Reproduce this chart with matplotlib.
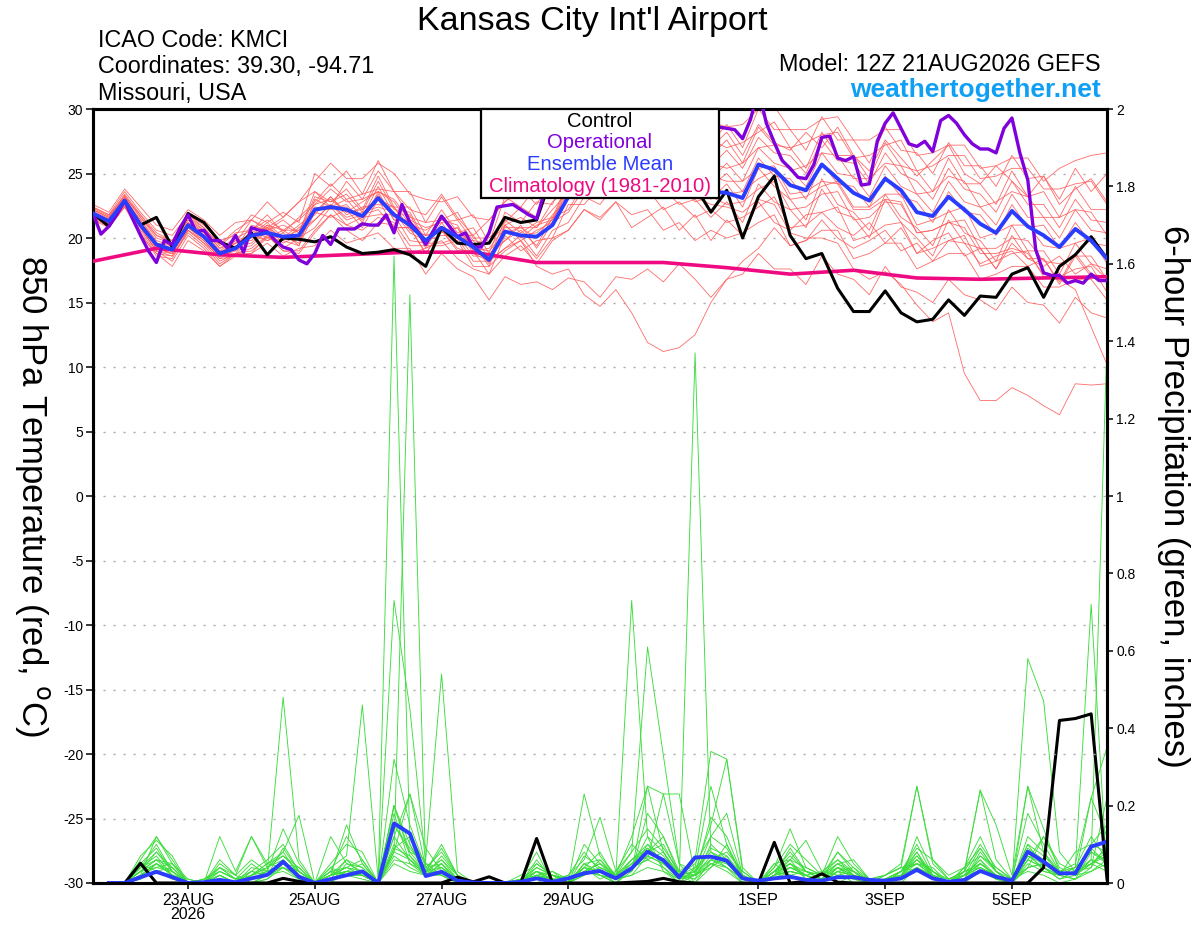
import numpy as np
import matplotlib
matplotlib.use('Agg')
import matplotlib.pyplot as plt
from matplotlib.patches import Rectangle

plt.rcParams['font.family'] = ['Liberation Sans', 'DejaVu Sans']
plt.rcParams['axes.unicode_minus'] = False

# ---------------- time axes ----------------
t0 = np.datetime64('2026-08-21T12:00')
t6 = t0 + np.arange(65) * np.timedelta64(6, 'h')      # 6-hourly (ensemble)
t3 = t0 + np.arange(129) * np.timedelta64(3, 'h')     # 3-hourly (operational)
t24 = t0 + np.arange(17) * np.timedelta64(24, 'h')    # daily (climatology)
tp = t6[1:]                                           # precip accumulations

tick_dates = np.array(['2026-08-23T00:00', '2026-08-25T00:00', '2026-08-27T00:00',
                       '2026-08-29T00:00', '2026-09-01T00:00', '2026-09-03T00:00',
                       '2026-09-05T00:00'], dtype='datetime64[m]')
tick_labels = ['23AUG\n2026', '25AUG', '27AUG', '29AUG', '1SEP', '3SEP', '5SEP']

# ---------------- 850 hPa temperature ----------------
control_t = [21.9, 20.9, 22.9, 21.0, 21.6, 19.3, 21.9, 21.2, 19.7, 19.2,
             20.4, 18.7, 20.0, 19.9, 19.7, 20.1, 19.3, 18.8, 18.9, 19.1,
             18.7, 17.8, 20.8, 19.6, 19.5, 19.6, 21.6, 21.2, 21.4, 25.0,
             25.5, 26.0, 25.0, 24.5, 25.5, 24.8, 24.2, 24.6, 24.0, 22.0,
             23.7, 20.0, 23.2, 24.8, 20.2, 18.4, 18.8, 16.1, 14.3, 14.3,
             15.9, 14.2, 13.5, 13.7, 15.2, 14.0, 15.5, 15.4, 17.2, 17.7,
             15.4, 17.8, 18.7, 20.1, 18.4]

mean_t = [21.9, 21.3, 22.9, 21.0, 19.5, 19.1, 21.0, 20.1, 18.8, 19.2,
          20.2, 20.4, 20.1, 20.2, 22.2, 22.4, 22.2, 21.7, 23.1, 21.8,
          21.0, 19.8, 20.8, 20.1, 19.3, 18.3, 20.5, 20.2, 20.1, 21.0,
          23.2, 24.0, 24.5, 24.8, 25.0, 24.6, 24.2, 24.0, 23.8, 23.6,
          23.5, 23.1, 25.7, 25.3, 24.1, 23.7, 25.7, 24.6, 23.5, 22.9,
          24.6, 23.7, 22.0, 21.7, 23.2, 22.2, 21.1, 20.4, 22.1, 20.9,
          20.2, 19.3, 20.7, 19.8, 18.4]

oper_t = [21.9, 20.3, 20.9, 21.8, 22.9, 21.5, 20.2, 19.0, 18.1, 19.8,
          19.5, 20.8, 21.8, 20.5, 20.6, 19.8, 19.8, 19.2, 20.2, 18.9,
          20.8, 20.6, 20.5, 19.8, 19.3, 19.1, 18.3, 18.0, 18.8, 20.2,
          19.5, 20.7, 20.7, 20.7, 21.1, 21.0, 21.0, 21.8, 20.4, 22.6,
          21.2, 20.5, 19.5, 20.6, 21.7, 20.9, 20.1, 20.4, 19.3, 19.3,
          20.4, 22.4, 22.5, 22.6, 22.2, 21.8, 21.5, 23.6, 25.5, 26.5,
          27.5, 28.5, 29.5, 30.5, 29.5, 28.5, 29.0, 30.2, 29.0, 28.0,
          27.5, 28.5, 30.3, 29.0, 28.0, 28.5, 29.0, 30.2, 29.0, 28.6,
          28.5, 28.4, 27.7, 29.2, 31.5, 28.9, 27.4, 26.0, 25.4, 24.7,
          24.6, 25.7, 27.8, 27.9, 26.2, 26.0, 26.3, 24.1, 24.2, 27.5,
          28.9, 29.7, 28.5, 27.3, 27.1, 27.5, 26.7, 29.1, 29.5, 28.9,
          28.0, 27.3, 26.9, 26.9, 26.6, 28.5, 29.3, 26.6, 24.5, 19.1,
          17.3, 17.1, 17.1, 16.5, 16.7, 16.5, 17.2, 16.7, 16.7]

climo_t = [18.2, 19.2, 18.7, 18.5, 18.7, 18.9, 18.9, 18.1, 18.1, 18.1,
           17.7, 17.2, 17.5, 16.9, 16.8, 16.9, 17.0]

m01 = [22.2, 21.6, 23.4, 21.8, 20.4, 19.8, 21.6, 20.8, 19.5, 20.6, 21.4, 20.8, 21.6, 22.8, 23.6, 22.4,
       24.4, 23.0, 25.2, 23.6, 22.2, 21.8, 23.4, 21.6, 20.2, 21.4, 22.8, 23.8, 22.6, 24.6, 25.8, 26.8,
       27.6, 26.2, 27.8, 28.4, 26.6, 27.2, 28.8, 27.0, 28.2, 26.4, 28.8, 27.4, 26.8, 28.2, 27.0, 28.6,
       26.4, 25.2, 27.6, 26.2, 24.8, 26.0, 27.2, 25.0, 24.2, 25.6, 24.4, 23.2, 24.8, 22.6, 23.8, 24.6, 22.8]
m02 = [21.6, 21.0, 22.6, 20.4, 18.6, 18.4, 20.6, 19.6, 18.2, 18.8, 19.2, 20.2, 19.0, 18.8, 20.4, 21.8,
       20.6, 19.8, 21.2, 21.0, 18.8, 19.2, 19.8, 18.4, 17.6, 17.2, 18.6, 19.4, 18.0, 19.8, 20.6, 22.2,
       21.6, 22.8, 20.8, 21.6, 22.4, 20.6, 21.8, 19.8, 21.4, 20.2, 22.8, 21.2, 20.6, 21.8, 22.0, 20.8,
       20.2, 21.2, 19.6, 20.8, 18.8, 19.8, 20.4, 18.6, 19.2, 17.6, 19.6, 18.4, 17.8, 18.6, 17.2, 18.0, 16.8]
m03 = [21.8, 21.2, 22.8, 21.2, 19.6, 19.4, 21.2, 20.4, 19.0, 19.8, 20.2, 21.2, 20.0, 20.6, 21.4, 22.6,
       21.4, 21.8, 22.2, 20.8, 20.8, 18.8, 20.6, 19.2, 18.8, 18.2, 19.2, 19.8, 17.8, 17.2, 17.6, 15.6,
       14.7, 16.0, 14.2, 11.9, 11.2, 11.5, 12.5, 15.0, 16.8, 18.2, 19.2, 20.8, 19.4, 19.8, 21.4, 20.0,
       19.2, 19.8, 20.6, 19.0, 19.6, 18.2, 19.8, 19.6, 18.0, 18.6, 19.0, 17.8, 18.4, 16.4, 18.6, 17.0, 16.6]
m04 = [21.4, 20.8, 22.4, 20.2, 18.8, 17.8, 19.8, 19.0, 17.8, 18.6, 18.8, 19.6, 18.6, 19.2, 19.4, 20.6,
       19.6, 20.0, 20.4, 19.2, 19.2, 17.2, 18.8, 17.6, 17.0, 15.2, 17.0, 16.4, 16.6, 16.0, 16.9, 16.6,
       15.4, 17.0, 16.8, 17.6, 16.6, 18.0, 16.8, 15.4, 16.8, 17.2, 18.8, 17.6, 17.6, 16.4, 18.6, 17.2,
       16.8, 15.6, 17.8, 16.2, 15.8, 15.0, 16.8, 15.6, 15.2, 14.4, 16.2, 15.0, 14.8, 13.4, 15.4, 14.2, 13.8]
m05 = [22.0, 21.4, 23.0, 21.2, 19.4, 19.2, 21.0, 20.2, 18.8, 19.6, 20.2, 20.8, 20.0, 21.0, 22.0, 23.2,
       22.0, 22.2, 23.0, 22.4, 20.8, 20.2, 20.6, 20.8, 19.2, 19.0, 20.4, 20.8, 20.0, 21.8, 23.0, 24.6,
       24.2, 25.4, 24.8, 25.0, 23.8, 24.4, 23.2, 22.6, 22.4, 22.0, 23.0, 22.6, 20.4, 20.0, 20.0, 19.6,
       17.6, 16.8, 17.4, 16.4, 14.8, 13.5, 14.2, 9.5, 7.4, 7.4, 8.4, 7.8, 7.0, 6.3, 8.7, 8.6, 8.7]
m06 = [22.4, 21.8, 23.2, 21.6, 20.0, 19.6, 21.4, 20.6, 19.2, 20.0, 20.6, 21.4, 20.6, 21.4, 22.6, 23.8,
       22.8, 23.0, 23.6, 23.0, 21.4, 20.8, 21.2, 21.4, 19.8, 19.6, 21.0, 21.6, 20.8, 22.8, 23.8, 25.4,
       25.0, 26.2, 25.6, 25.8, 24.6, 25.2, 24.8, 24.8, 24.4, 24.4, 25.4, 25.6, 23.4, 23.6, 24.4, 24.2,
       22.2, 22.2, 23.0, 22.8, 20.4, 20.6, 21.2, 20.8, 18.8, 18.8, 19.2, 18.8, 17.2, 16.8, 16.0, 13.1, 10.2]
m07 = [22.6, 22.0, 23.8, 22.4, 21.0, 20.6, 22.2, 21.4, 20.2, 21.2, 21.4, 22.8, 21.6, 22.8, 24.4, 25.8,
       24.6, 24.6, 25.8, 25.0, 23.4, 23.0, 22.8, 23.2, 21.6, 21.4, 22.8, 24.0, 23.8, 26.0, 26.8, 28.4,
       28.2, 29.4, 28.2, 28.6, 27.4, 27.8, 27.6, 29.0, 28.6, 28.8, 30.0, 30.2, 28.4, 28.4, 29.2, 29.4,
       27.6, 27.6, 28.4, 28.4, 26.4, 26.6, 27.2, 27.2, 25.4, 25.6, 26.2, 26.2, 24.4, 25.4, 26.0, 26.4, 26.6]
m08 = [21.7, 21.1, 22.7, 21.0, 19.2, 18.8, 20.8, 19.8, 18.4, 18.6, 20.4, 19.8, 20.2, 19.6, 22.4, 22.2,
       22.6, 21.2, 23.6, 21.4, 21.4, 19.2, 21.2, 19.6, 19.6, 17.8, 21.0, 19.8, 20.6, 21.2, 24.0, 24.2,
       25.6, 25.2, 26.2, 24.8, 25.2, 24.0, 24.4, 23.0, 24.2, 22.4, 25.4, 24.0, 23.0, 21.4, 24.6, 22.6,
       22.0, 20.6, 23.4, 21.6, 20.8, 19.4, 22.2, 20.4, 19.8, 18.2, 21.0, 19.0, 19.0, 17.2, 19.6, 18.0, 17.6]
m09 = [22.1, 21.5, 23.1, 21.4, 19.8, 19.4, 21.4, 20.4, 19.0, 19.2, 21.0, 20.6, 21.0, 20.4, 23.2, 22.8,
       23.4, 22.0, 24.4, 22.2, 22.0, 19.8, 21.6, 20.2, 20.2, 18.4, 21.4, 20.4, 21.2, 21.6, 24.4, 24.6,
       26.0, 25.6, 26.8, 25.6, 26.0, 24.8, 26.0, 25.6, 26.8, 25.4, 27.8, 26.6, 26.4, 25.0, 27.6, 26.0,
       25.8, 24.2, 26.6, 25.0, 24.4, 23.0, 25.4, 23.8, 23.4, 22.0, 24.4, 22.6, 22.6, 20.8, 23.0, 21.4, 21.2]
m10 = [21.5, 20.9, 22.5, 20.6, 18.8, 18.6, 20.4, 19.4, 18.0, 18.8, 19.0, 20.0, 19.8, 19.4, 22.0, 21.6,
       22.2, 20.8, 23.0, 20.8, 20.8, 18.8, 20.6, 19.0, 19.0, 17.2, 20.2, 19.0, 19.8, 20.0, 22.6, 22.6,
       24.0, 23.6, 24.8, 23.4, 23.8, 22.6, 23.0, 21.6, 22.8, 21.2, 24.2, 22.8, 22.2, 20.8, 23.8, 22.0,
       21.6, 20.0, 23.0, 21.2, 20.0, 18.6, 21.4, 19.6, 19.2, 17.6, 20.2, 18.4, 18.4, 16.6, 18.8, 17.2, 17.0]
m11 = [22.3, 21.7, 23.3, 21.6, 20.2, 19.8, 21.8, 20.8, 19.4, 20.4, 20.6, 21.8, 20.4, 21.6, 22.8, 24.2,
       23.0, 23.4, 23.8, 23.6, 21.6, 21.2, 21.4, 22.0, 20.0, 20.0, 21.2, 22.4, 21.6, 24.4, 24.8, 26.8,
       26.2, 27.8, 26.8, 27.6, 25.8, 27.0, 26.4, 27.6, 27.0, 27.4, 28.2, 29.0, 27.0, 27.4, 28.0, 28.2,
       26.2, 26.4, 27.2, 27.6, 25.2, 25.6, 26.4, 26.4, 24.6, 24.8, 25.4, 25.4, 23.8, 23.8, 24.2, 24.4, 22.6]
m12 = [21.9, 21.3, 22.9, 20.8, 19.0, 18.8, 20.8, 20.0, 18.6, 19.4, 19.6, 20.8, 19.6, 20.2, 21.4, 22.6,
       21.6, 22.0, 22.4, 22.0, 20.4, 19.8, 20.2, 20.2, 18.6, 18.6, 19.8, 20.6, 19.4, 21.6, 22.2, 24.2,
       23.8, 25.2, 24.2, 25.0, 23.6, 24.2, 22.8, 23.2, 22.6, 22.8, 23.8, 24.4, 22.2, 22.4, 23.4, 23.6,
       21.4, 21.6, 22.8, 22.6, 20.4, 20.6, 21.2, 21.4, 19.2, 19.2, 20.0, 19.8, 18.2, 18.0, 18.6, 18.6, 16.8]
m13 = [21.8, 21.2, 22.6, 21.2, 19.4, 19.0, 20.6, 19.6, 18.6, 19.0, 20.2, 19.8, 20.4, 19.4, 23.0, 22.4,
       23.0, 21.6, 24.0, 21.8, 21.8, 19.6, 21.6, 20.0, 19.8, 18.0, 21.0, 20.0, 21.0, 21.4, 24.2, 24.2,
       25.4, 25.0, 26.0, 24.6, 25.0, 23.8, 25.0, 24.6, 25.8, 24.4, 27.0, 25.8, 25.4, 24.0, 26.6, 25.0,
       24.8, 23.2, 25.6, 24.0, 23.4, 22.0, 24.4, 22.8, 22.4, 21.0, 23.4, 21.6, 21.6, 20.0, 22.2, 20.6, 20.4]
m14 = [22.0, 21.4, 22.9, 21.4, 19.6, 19.0, 21.2, 20.2, 18.8, 19.6, 20.0, 21.0, 19.8, 20.8, 21.8, 23.2,
       21.8, 22.4, 22.6, 22.4, 20.6, 20.2, 20.4, 20.8, 18.8, 18.8, 19.8, 21.0, 19.2, 21.2, 22.0, 23.8,
       23.2, 24.6, 24.2, 24.4, 23.2, 23.6, 23.2, 23.8, 23.4, 23.6, 24.6, 25.2, 23.0, 23.2, 24.0, 24.4,
       22.4, 22.4, 23.4, 23.4, 21.0, 21.4, 22.0, 22.4, 20.0, 20.4, 21.0, 21.0, 19.4, 19.2, 19.6, 20.0, 18.0]
m15 = [22.4, 21.8, 23.6, 22.0, 20.6, 20.2, 21.8, 21.0, 19.8, 20.2, 21.8, 21.2, 22.0, 21.2, 25.0, 24.0,
       25.2, 23.4, 26.0, 23.6, 23.6, 21.2, 23.2, 21.4, 21.8, 19.6, 23.2, 22.4, 24.0, 24.4, 27.2, 26.8,
       28.4, 27.8, 28.6, 27.2, 27.6, 26.4, 27.8, 27.4, 28.8, 27.0, 30.0, 28.4, 28.4, 26.8, 29.4, 27.6,
       27.6, 25.8, 28.6, 26.8, 26.6, 25.0, 27.4, 25.6, 25.6, 24.0, 26.4, 24.6, 24.8, 23.0, 25.4, 23.6, 25.0]
m16 = [21.6, 21.0, 22.4, 20.8, 19.0, 18.2, 20.2, 19.2, 17.8, 18.8, 18.8, 20.2, 19.0, 19.0, 20.6, 21.8,
       21.0, 20.6, 21.6, 21.2, 19.4, 19.4, 19.4, 19.8, 17.8, 17.8, 19.0, 19.8, 18.4, 20.0, 20.6, 22.2,
       21.4, 22.8, 21.8, 22.2, 20.6, 21.2, 19.8, 20.6, 20.0, 20.4, 21.2, 21.8, 19.4, 19.8, 20.6, 20.6,
       18.4, 18.8, 19.6, 19.6, 17.6, 18.2, 18.8, 18.8, 16.8, 17.2, 17.8, 17.8, 16.2, 16.2, 16.8, 16.8, 15.2]
m17 = [22.2, 21.6, 23.2, 21.8, 20.2, 19.6, 21.6, 20.6, 19.2, 19.6, 21.4, 20.6, 21.4, 20.4, 23.6, 22.8,
       23.8, 22.2, 24.8, 22.4, 22.4, 20.2, 22.2, 20.4, 20.8, 18.8, 22.0, 21.2, 22.8, 22.6, 25.6, 25.0,
       26.8, 26.2, 27.4, 26.0, 26.6, 25.2, 26.6, 26.4, 27.6, 25.8, 28.6, 27.2, 27.0, 25.4, 28.2, 26.4,
       26.4, 24.6, 27.4, 25.6, 25.2, 23.6, 26.2, 24.2, 24.2, 22.6, 25.2, 23.2, 23.6, 21.6, 24.0, 22.2, 22.2]
m18 = [21.7, 21.1, 22.7, 20.8, 19.0, 18.6, 20.6, 19.8, 18.4, 19.2, 19.4, 20.6, 19.2, 20.0, 20.8, 22.4,
       21.0, 21.6, 21.8, 21.8, 19.8, 19.6, 19.6, 20.0, 18.2, 18.2, 19.2, 20.2, 18.6, 20.6, 21.2, 23.2,
       22.6, 24.2, 23.0, 23.8, 22.2, 22.8, 21.6, 22.2, 21.2, 21.6, 22.4, 23.2, 20.8, 21.0, 22.0, 22.4,
       19.8, 20.2, 21.0, 21.2, 18.8, 19.2, 19.8, 20.2, 17.8, 18.2, 18.8, 19.0, 17.0, 17.0, 17.6, 17.8, 15.8]
m19 = [22.0, 21.4, 23.0, 21.2, 19.6, 19.2, 21.0, 20.2, 18.8, 19.8, 19.8, 21.0, 20.6, 20.6, 22.6, 23.0,
       22.0, 22.8, 23.6, 22.8, 21.0, 20.6, 21.4, 21.0, 19.0, 19.2, 20.8, 20.8, 20.8, 22.2, 23.6, 25.4,
       24.6, 26.2, 25.6, 26.2, 24.6, 25.6, 25.4, 25.8, 25.4, 25.8, 27.0, 27.2, 25.2, 25.6, 26.6, 26.4,
       24.6, 24.6, 25.8, 25.6, 23.4, 23.6, 24.8, 24.4, 22.4, 22.8, 23.6, 23.2, 21.6, 21.6, 22.2, 22.0, 20.2]
m20 = [21.8, 21.2, 22.8, 21.0, 19.2, 18.8, 20.8, 20.0, 18.6, 18.8, 20.6, 20.0, 20.6, 19.8, 22.2, 22.4,
       22.4, 21.4, 23.4, 21.4, 21.2, 19.6, 20.8, 19.6, 19.4, 18.2, 20.6, 20.2, 20.4, 21.4, 23.6, 23.8,
       25.0, 24.4, 25.6, 24.2, 24.6, 23.2, 24.4, 24.0, 25.0, 23.6, 26.2, 24.8, 24.6, 23.0, 25.8, 24.2,
       24.0, 22.4, 24.8, 23.2, 22.8, 21.2, 23.6, 22.0, 21.8, 20.2, 22.6, 20.8, 21.0, 19.2, 21.2, 19.6, 19.4]
temp_members = [m01, m02, m03, m04, m05, m06, m07, m08, m09, m10,
                m11, m12, m13, m14, m15, m16, m17, m18, m19, m20]

# ---------------- 6-hour precipitation (inches), 21AUG 18Z onward ----------------
control_p = [0, 0, 0.051, 0, 0, 0, 0, 0, 0, 0,
             0, 0.012, 0.004, 0, 0, 0, 0, 0, 0, 0,
             0, 0, 0.015, 0.003, 0.016, 0, 0, 0.115, 0, 0,
             0, 0, 0, 0.002, 0.004, 0.012, 0.003, 0, 0, 0,
             0, 0, 0.105, 0, 0.004, 0.024, 0.002, 0, 0, 0,
             0, 0, 0, 0, 0, 0, 0, 0, 0, 0.04,
             0.42, 0.425, 0.437, 0.01]
mean_p = [0, 0, 0.015, 0.029, 0.015, 0, 0.002, 0.008, 0.002, 0.012,
          0.021, 0.055, 0.016, 0, 0.010, 0.020, 0.030, 0, 0.154, 0.128,
          0.018, 0.029, 0.006, 0.001, 0, 0, 0.003, 0.012, 0.003, 0.012,
          0.025, 0.031, 0.012, 0.038, 0.081, 0.059, 0.015, 0.066, 0.068, 0.058,
          0.012, 0.006, 0.012, 0.016, 0.008, 0.006, 0.015, 0.015, 0.008, 0.006,
          0.012, 0.034, 0.012, 0.003, 0.008, 0.031, 0.016, 0.006, 0.081, 0.055,
          0.025, 0.025, 0.094, 0.107]

g01 = [0, 0, 0.03, 0.06, 0.02, 0, 0, 0.01, 0, 0.02, 0.04, 0.08, 0.02, 0, 0, 0.03,
       0.05, 0, 1.62, 0.10, 0.02, 0.03, 0, 0, 0, 0, 0, 0.02, 0, 0, 0.03, 0.05,
       0.01, 0.06, 0.10, 0.04, 0, 0.02, 0.05, 0.03, 0, 0, 0.01, 0.03, 0.02, 0, 0.04, 0.01,
       0, 0, 0.02, 0.08, 0.01, 0, 0, 0.05, 0.02, 0, 0.06, 0.04, 0.01, 0.02, 0.05, 0.03]
g02 = [0, 0, 0.07, 0.11, 0.07, 0, 0, 0.02, 0, 0, 0.01, 0.05, 0.03, 0, 0.02, 0.06,
       0.02, 0, 0.08, 1.52, 0.03, 0.06, 0.01, 0, 0, 0, 0, 0, 0, 0.02, 0.08, 0.03,
       0, 0.04, 0.12, 0.08, 0.02, 0, 0.04, 0.10, 0.01, 0, 0.02, 0.05, 0.01, 0, 0, 0.02,
       0.01, 0, 0, 0.04, 0.02, 0, 0.02, 0.09, 0.03, 0, 0.12, 0.08, 0.02, 0.01, 0.03, 0.06]
g03 = [0, 0, 0.02, 0.05, 0.03, 0, 0.01, 0.04, 0.02, 0, 0.02, 0.03, 0.01, 0, 0.03, 0.02,
       0.01, 0, 0.73, 0.45, 0.05, 0.02, 0, 0, 0, 0, 0.01, 0.03, 0.01, 0, 0.02, 0.04,
       0.02, 0.12, 0.25, 0.08, 0.01, 0.03, 0.08, 0.06, 0, 0, 0.03, 0.06, 0.01, 0.02, 0.05, 0.02,
       0, 0, 0.01, 0.12, 0.03, 0, 0.01, 0.07, 0.04, 0.01, 0.03, 0.02, 0, 0.01, 0.08, 0.05]
g04 = [0, 0, 0.04, 0.08, 0.04, 0, 0, 0, 0, 0.03, 0.06, 0.10, 0.03, 0, 0.04, 0.07,
       0.46, 0.01, 0.20, 0.08, 0.06, 0.54, 0.03, 0, 0, 0, 0, 0.04, 0.02, 0, 0.05, 0.02,
       0, 0.03, 0.18, 0.12, 0.03, 0.02, 0.12, 0.09, 0.02, 0, 0.05, 0.02, 0.03, 0.01, 0.03, 0,
       0, 0.01, 0.03, 0.05, 0.02, 0, 0, 0.03, 0.02, 0, 0.25, 0.14, 0.03, 0.02, 0.06, 0.04]
g05 = [0, 0, 0.03, 0.04, 0.05, 0.01, 0, 0.03, 0.01, 0.01, 0.03, 0.48, 0.06, 0, 0.01, 0.03,
       0.03, 0, 0.12, 0.23, 0.04, 0.02, 0, 0, 0, 0, 0, 0, 0.02, 0.01, 0.04, 0.01,
       0.03, 0.10, 0.06, 0.23, 0.05, 0, 0.06, 0.08, 0.03, 0, 0.02, 0.04, 0.02, 0.03, 0.02, 0.01,
       0, 0.02, 0.04, 0.03, 0.01, 0, 0.03, 0.04, 0.02, 0.01, 0.04, 0.12, 0.05, 0.03, 0.10, 0.08]
g06 = [0, 0, 0.01, 0.03, 0.02, 0, 0, 0.02, 0, 0, 0.01, 0.04, 0.02, 0, 0.01, 0.02,
       0.02, 0, 0.10, 0.06, 0.02, 0.04, 0.01, 0, 0, 0, 0, 0.01, 0.03, 0.01, 0.02, 0.06,
       0.01, 0.02, 0.04, 0.03, 0.01, 1.37, 0.08, 0.05, 0.01, 0, 0.03, 0.02, 0.01, 0, 0.02, 0.03,
       0, 0, 0.03, 0.10, 0.02, 0.01, 0.02, 0.06, 0.01, 0, 0.08, 0.03, 0.02, 0.01, 0.04, 0.22]
g07 = [0, 0, 0.02, 0.12, 0.05, 0, 0.01, 0.01, 0, 0.03, 0.02, 0.06, 0.02, 0, 0.02, 0.04,
       0.03, 0, 0.15, 0.08, 0.03, 0.10, 0.02, 0, 0, 0, 0.01, 0.08, 0, 0, 0.10, 0.05,
       0.02, 0.73, 0.12, 0.03, 0, 0.04, 0.25, 0.10, 0.02, 0, 0.04, 0.14, 0.04, 0.02, 0.05, 0.03,
       0, 0.01, 0.02, 0.07, 0.03, 0, 0.01, 0.08, 0.03, 0, 0.07, 0.05, 0.02, 0.04, 0.12, 0.06]
g08 = [0, 0, 0.05, 0.09, 0.03, 0, 0, 0.06, 0.02, 0.12, 0.04, 0.07, 0.04, 0, 0.03, 0.12,
       0.06, 0, 0.18, 0.05, 0.02, 0.07, 0.02, 0, 0, 0, 0, 0.03, 0.01, 0.02, 0.06, 0.17,
       0.03, 0.08, 0.61, 0.33, 0.05, 0.03, 0.15, 0.32, 0.03, 0, 0.02, 0.06, 0.11, 0.03, 0.06, 0.02,
       0.01, 0.02, 0.04, 0.25, 0.05, 0.01, 0.03, 0.24, 0.06, 0.01, 0.10, 0.04, 0.01, 0.03, 0.05, 0.09]
g09 = [0, 0, 0.02, 0.03, 0.01, 0, 0, 0, 0, 0.02, 0.03, 0.05, 0.02, 0, 0, 0.05,
       0.04, 0, 0.05, 0.03, 0.02, 0.05, 0.01, 0, 0, 0, 0, 0.02, 0, 0, 0.04, 0.03,
       0.01, 0.05, 0.08, 0.12, 0.02, 0.01, 0.10, 0.06, 0.01, 0, 0.01, 0.04, 0.02, 0, 0.03, 0.04,
       0, 0, 0.02, 0.06, 0.03, 0.01, 0.02, 0.04, 0.01, 0, 0.05, 0.03, 0.02, 0.03, 0.06, 1.40]
g10 = [0, 0, 0.04, 0.07, 0.02, 0.01, 0, 0.04, 0.01, 0.05, 0.02, 0.09, 0.03, 0, 0.02, 0.03,
       0.02, 0, 0.20, 0.10, 0.03, 0.02, 0, 0, 0, 0, 0, 0.05, 0.02, 0, 0.02, 0.04,
       0.02, 0.06, 0.08, 0.06, 0.02, 0.01, 0.05, 0.04, 0, 0, 0.03, 0.05, 0.03, 0.01, 0.04, 0.02,
       0, 0.01, 0.03, 0.08, 0.02, 0, 0.03, 0.10, 0.04, 0.01, 0.09, 0.06, 0.02, 0.04, 0.72, 0.02]
g11 = [0, 0, 0.01, 0.05, 0.02, 0, 0, 0.02, 0, 0, 0.02, 0.04, 0.01, 0, 0.01, 0.06,
       0.04, 0, 0.07, 0.04, 0.02, 0.03, 0, 0, 0, 0, 0.01, 0.02, 0.01, 0, 0.03, 0.02,
       0, 0.04, 0.07, 0.05, 0.01, 0.02, 0.04, 0.07, 0.02, 0, 0.03, 0.08, 0.03, 0.02, 0.12, 0.05,
       0.01, 0, 0.02, 0.06, 0.02, 0, 0.04, 0.12, 0.03, 0, 0.58, 0.47, 0.08, 0.03, 0.04, 0.10]
g12 = [0, 0, 0.03, 0.06, 0.04, 0, 0, 0.01, 0, 0.02, 0.05, 0.04, 0.02, 0, 0.03, 0.02,
       0.03, 0, 0.09, 0.12, 0.05, 0.04, 0, 0, 0, 0, 0, 0.01, 0.02, 0.01, 0.03, 0.02,
       0.01, 0.05, 0.09, 0.05, 0.03, 0.06, 0.34, 0.32, 0.04, 0, 0.02, 0.03, 0.02, 0.01, 0.08, 0.03,
       0, 0, 0.02, 0.04, 0.01, 0, 0.02, 0.05, 0.02, 0, 0.06, 0.12, 0.04, 0.02, 0.22, 0.35]
g13 = [0, 0, 0.02, 0.04, 0.03, 0, 0, 0.03, 0.01, 0.01, 0.02, 0.05, 0.03, 0, 0.02, 0.03,
       0.02, 0, 0.06, 0.05, 0.03, 0.06, 0.02, 0, 0, 0, 0, 0.02, 0.01, 0, 0.23, 0.07,
       0.02, 0.03, 0.25, 0.23, 0.23, 0.02, 0.05, 0.06, 0.01, 0, 0.02, 0.03, 0.02, 0, 0.03, 0.02,
       0, 0.01, 0.03, 0.05, 0.02, 0, 0.02, 0.03, 0.01, 0, 0.04, 0.05, 0.03, 0.02, 0.03, 0.05]
g14 = [0, 0, 0.03, 0.05, 0.02, 0, 0, 0.02, 0, 0.02, 0.04, 0.06, 0.02, 0, 0.02, 0.03,
       0.02, 0, 0.08, 0.06, 0.02, 0.05, 0.01, 0, 0, 0, 0, 0.03, 0.01, 0, 0.03, 0.02,
       0.01, 0.04, 0.06, 0.04, 0.01, 0.02, 0.06, 0.04, 0.01, 0, 0.02, 0.05, 0.02, 0, 0.03, 0.02,
       0, 0.02, 0.05, 0.25, 0.06, 0.01, 0.03, 0.24, 0.15, 0.02, 0.25, 0.08, 0.03, 0.02, 0.06, 0.04]
g15 = [0, 0, 0.04, 0.10, 0.03, 0, 0, 0.12, 0.03, 0.12, 0.05, 0.08, 0.175, 0, 0.02, 0.15,
       0.05, 0, 0.08, 0.23, 0.09, 0.03, 0.01, 0, 0, 0, 0, 0.03, 0.02, 0, 0.05, 0.03,
       0.02, 0.06, 0.09, 0.06, 0.02, 0.04, 0.08, 0.05, 0.02, 0, 0.03, 0.07, 0.03, 0.02, 0.04, 0.03,
       0, 0.01, 0.03, 0.07, 0.02, 0, 0.02, 0.06, 0.02, 0, 0.08, 0.06, 0.03, 0.02, 0.05, 0.07]
g16 = [0, 0, 0.06, 0.12, 0.06, 0, 0, 0.02, 0, 0.01, 0.03, 0.14, 0.05, 0, 0.12, 0.05,
       0.03, 0, 0.32, 0.15, 0.04, 0.08, 0.02, 0, 0, 0, 0, 0.03, 0, 0, 0.07, 0.04,
       0.02, 0.08, 0.14, 0.09, 0.03, 0.02, 0.17, 0.12, 0.02, 0, 0.05, 0.06, 0.04, 0.02, 0.06, 0.03,
       0.01, 0, 0.03, 0.09, 0.06, 0.02, 0.04, 0.09, 0.03, 0.01, 0.18, 0.10, 0.03, 0.05, 0.22, 0.12]
g17 = [0, 0, 0.02, 0.05, 0.02, 0, 0.01, 0.03, 0.01, 0.03, 0.02, 0.05, 0.04, 0, 0.05, 0.10,
       0.08, 0, 0.20, 0.07, 0.02, 0.02, 0, 0, 0, 0, 0.02, 0.05, 0.02, 0.01, 0.03, 0.05,
       0.02, 0.05, 0.08, 0.10, 0.02, 0.03, 0.09, 0.07, 0.01, 0, 0.04, 0.10, 0.06, 0.02, 0.08, 0.04,
       0.01, 0.02, 0.04, 0.05, 0.03, 0, 0.04, 0.07, 0.03, 0, 0.10, 0.07, 0.03, 0.04, 0.08, 0.06]
g18 = [0, 0, 0.03, 0.08, 0.03, 0, 0, 0.04, 0.01, 0.02, 0.05, 0.07, 0.03, 0, 0.03, 0.04,
       0.02, 0, 0.12, 0.06, 0.03, 0.09, 0.02, 0, 0, 0, 0.01, 0.04, 0.02, 0, 0.05, 0.06,
       0.02, 0.03, 0.10, 0.07, 0.02, 0.05, 0.12, 0.18, 0.02, 0, 0.03, 0.04, 0.03, 0.01, 0.05, 0.06,
       0.01, 0, 0.02, 0.04, 0.02, 0, 0.02, 0.04, 0.02, 0, 0.04, 0.05, 0.02, 0.08, 0.10, 0.15]
g19 = [0, 0, 0.04, 0.06, 0.05, 0, 0, 0.01, 0, 0.04, 0.03, 0.04, 0.02, 0, 0.04, 0.02,
       0.02, 0, 0.15, 0.09, 0.04, 0.05, 0, 0, 0, 0, 0, 0.02, 0.03, 0, 0.04, 0.08,
       0.01, 0.02, 0.07, 0.05, 0.02, 0.02, 0.07, 0.04, 0.01, 0, 0.02, 0.03, 0.02, 0, 0.04, 0.02,
       0, 0.01, 0.02, 0.05, 0.04, 0, 0.03, 0.05, 0.02, 0, 0.07, 0.04, 0.02, 0.03, 0.09, 0.05]
g20 = [0, 0, 0.05, 0.03, 0.04, 0, 0, 0.05, 0.02, 0.06, 0.03, 0.05, 0.03, 0, 0.02, 0.04,
       0.06, 0, 0.09, 0.07, 0.03, 0.04, 0.01, 0, 0, 0, 0, 0.06, 0.01, 0, 0.04, 0.03,
       0.02, 0.04, 0.06, 0.08, 0.02, 0.03, 0.06, 0.05, 0.01, 0, 0.02, 0.09, 0.03, 0.01, 0.04, 0.02,
       0, 0, 0.03, 0.06, 0.03, 0, 0.02, 0.05, 0.02, 0, 0.06, 0.04, 0.02, 0.03, 0.05, 0.08]
precip_members = [g01, g02, g03, g04, g05, g06, g07, g08, g09, g10,
                  g11, g12, g13, g14, g15, g16, g17, g18, g19, g20]

# ---------------- styling ----------------
RED = '#ff5a5a'
GREEN = '#3ddd3d'
PURPLE = '#8000dc'
BLUE = '#2a3cff'
MAGENTA = '#f00a82'
LINKCOL = '#0fa0f5'

fig = plt.figure(figsize=(12, 9.27), dpi=100)
fig.patch.set_facecolor('white')
pos = [93 / 1200, 1 - 883 / 927, (1107 - 93) / 1200, (883 - 109) / 927]
ax = fig.add_axes(pos)
ax2 = ax.twinx()
ax.set_zorder(ax2.get_zorder() + 1)
ax.patch.set_visible(False)

# precipitation (right axis)
for g in precip_members:
    ax2.plot(tp, g, color=GREEN, lw=0.65, zorder=1)
ax2.plot(tp, control_p, color='black', lw=2.2, zorder=3)
ax2.plot(tp, mean_p, color=BLUE, lw=2.8, zorder=4)
ax2.set_ylim(0, 2)
ax2.set_yticks(np.arange(0, 2.01, 0.2))
ax2.set_yticklabels(['0', '0.2', '0.4', '0.6', '0.8', '1', '1.2', '1.4', '1.6', '1.8', '2'])

# temperature (left axis)
for m in temp_members:
    ax.plot(t6, m, color=RED, lw=0.6, alpha=0.9, zorder=2)
ax.plot(t24, climo_t, color=MAGENTA, lw=2.6, zorder=3)
ax.plot(t6, control_t, color='black', lw=2.2, zorder=4)
ax.plot(t3, oper_t, color=PURPLE, lw=2.4, zorder=5)
ax.plot(t6, mean_t, color=BLUE, lw=2.8, zorder=6)

ax.set_ylim(-30, 30)
ax.set_yticks(np.arange(-30, 31, 5))
ax.set_xlim(t6[0], t6[-1])
ax.set_xticks(tick_dates)
ax.set_xticklabels(tick_labels)
for lab in ax.get_xticklabels():
    lab.set_linespacing(0.95)

ax.grid(axis='y', color='#aaaaaa', lw=1.0, linestyle=(0, (1.5, 5.7)), zorder=0)
ax.grid(axis='x', visible=False)
ax.set_axisbelow(True)

for a in (ax, ax2):
    for s in a.spines.values():
        s.set_linewidth(2.2)
ax.tick_params(axis='y', direction='out', length=5, width=1.1, labelsize=10, pad=2)
ax.tick_params(axis='x', direction='out', length=4, width=1.1, labelsize=11.5, pad=3)
ax2.tick_params(axis='y', direction='out', length=4.5, width=1.1, labelsize=10, pad=2)

ax.set_ylabel('850 hPa Temperature (red, $^\\mathrm{o}$C)', fontsize=25, rotation=-90,
              va='center', ha='center')
ax.yaxis.set_label_coords(-0.060, 0.5)
ax2.set_ylabel('6-hour Precipitation (green, inches)', fontsize=25, rotation=-90,
               va='center', ha='center')
ax2.yaxis.set_label_coords(1.066, 0.5)

# legend box
lx0 = (480.7 - 93) / 1014
lx1 = (719 - 93) / 1014
ly0 = (883 - 198.3) / 774
ax.add_patch(Rectangle((lx0, ly0), lx1 - lx0, 1 - ly0, transform=ax.transAxes,
                       facecolor='white', edgecolor='black', lw=1.6, zorder=20,
                       clip_on=False))
leg_items = [('Control', 'black'), ('Operational', PURPLE),
             ('Ensemble Mean', BLUE), ('Climatology (1981-2010)', MAGENTA)]
leg_base = [126.7, 148.3, 170.0, 192.3]
lxc = (lx0 + lx1) / 2
for (txt, col), yb in zip(leg_items, leg_base):
    ax.text(lxc, (883 - yb) / 774, txt, color=col, fontsize=14.6, ha='center',
            va='baseline', transform=ax.transAxes, zorder=21)

# header texts
fig.text(592 / 1200, 1 - 30 / 927, "Kansas City Int'l Airport", fontsize=24.5,
         ha='center', va='baseline')
fig.text(98 / 1200, 1 - 46.7 / 927, 'ICAO Code: KMCI', fontsize=16.8, ha='left', va='baseline')
fig.text(98 / 1200, 1 - 73.5 / 927, 'Coordinates: 39.30, -94.71', fontsize=16.8, ha='left', va='baseline')
fig.text(98 / 1200, 1 - 100 / 927, 'Missouri, USA', fontsize=16.8, ha='left', va='baseline')
fig.text(1101 / 1200, 1 - 70.7 / 927, 'Model: 12Z 21AUG2026 GEFS', fontsize=16.8,
         ha='right', va='baseline')
fig.text(1101 / 1200, 1 - 96.7 / 927, 'weathertogether.net', fontsize=19,
         fontweight='bold', color=LINKCOL, ha='right', va='baseline')

fig.savefig('out.png', dpi=100, facecolor='white')
